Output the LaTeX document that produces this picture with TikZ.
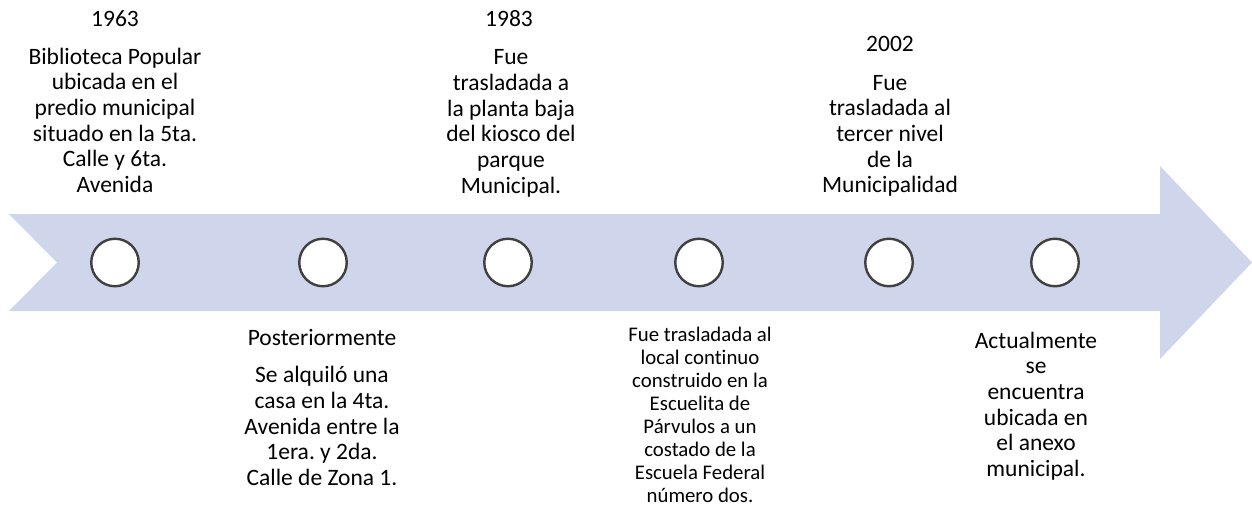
\documentclass[tikz,border=0pt]{standalone}
\usepackage{fontspec}
\setmainfont{Carlito}[Ligatures=NoCommon]
\frenchspacing
\definecolor{arrowfill}{HTML}{CFD5EA}
\definecolor{dotline}{HTML}{404040}
\tikzset{
  txt/.style={align=center, inner sep=0pt, text=black, font=\fontsize{23.5}{25.7}\selectfont},
  smalltxt/.style={align=center, inner sep=0pt, text=black, font=\fontsize{20.8}{22.9}\selectfont},
  dot/.style={circle, draw=dotline, line width=2.4pt, fill=white, minimum size=47.5pt, inner sep=0pt},
  band/.style={fill=arrowfill, draw=none}
}
\begin{document}
\begin{tikzpicture}[x=1pt,y=-1pt]
\useasboundingbox (0,0) rectangle (1252,508);
% arrow band
\path[band] (9,214) -- (1160,214) -- (1160,166) -- (1252,262.5) -- (1160,359) -- (1160,311) -- (9,311) -- (57,262.5) -- cycle;
% dots
\node[dot] (d1) at (115,262.5) {};
\node[dot] (d2) at (323,262.5) {};
\node[dot] (d3) at (508,262.5) {};
\node[dot] (d4) at (699,262.5) {};
\node[dot] (d5) at (889,262.5) {};
\node[dot] (d6) at (1055,262.5) {};
% column 1
\node[txt, anchor=base] (y1) at (115,27) {1963};
\node[txt, anchor=north] (t1) at (115,46) {\strut Biblioteca Popular\\ubicada en el\\predio municipal\\situado en la 5ta.\\Calle y 6ta.\\Avenida};
% column 2
\node[txt, anchor=base] (y2) at (322,345.7) {Posteriormente};
\node[txt, anchor=north] (t2) at (322,364.5) {\strut Se alquiló una\\casa en la 4ta.\\Avenida entre la\\1era. y 2da.\\Calle de Zona 1.};
% column 3
\node[txt, anchor=base] (y3) at (509,27) {1983};
\node[txt, anchor=north] (t3) at (511,46.5) {\strut Fue\\trasladada a\\la planta baja\\del kiosco del\\parque\\Municipal.};
% column 4
\node[smalltxt, anchor=north] (t4) at (700,325.7) {\strut Fue trasladada al\\local continuo\\construido en la\\Escuelita de\\Párvulos a un\\costado de la\\Escuela Federal\\número dos.};
% column 5
\node[txt, anchor=base] (y5) at (890,52) {2002};
\node[txt, anchor=north] (t5) at (890,72) {\strut Fue\\trasladada al\\tercer nivel\\de la\\Municipalidad};
% column 6
\node[txt, anchor=north] (t6) at (1036,330) {\strut Actualmente\\se\\encuentra\\ubicada en\\el anexo\\municipal.};
\end{tikzpicture}
\end{document}
